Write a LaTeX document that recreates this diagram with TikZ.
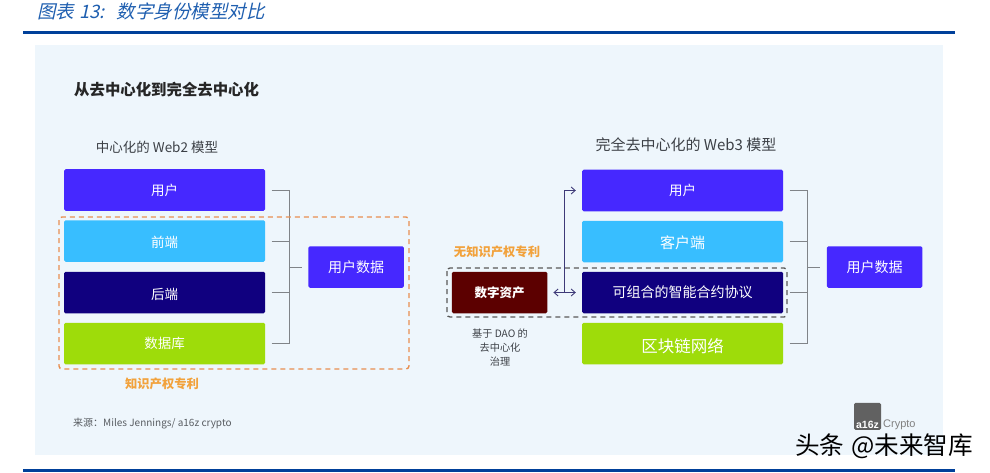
\documentclass[tikz,border=0pt]{standalone}
\usepackage{fontspec}
\setmainfont{Noto Sans CJK SC}
\newfontfamily\slantcjk[FakeSlant=0.22]{Noto Sans CJK SC}
\newfontfamily\logofont{Liberation Sans}
\definecolor{rulebl}{HTML}{00409A}
\definecolor{titlebl}{HTML}{1F5FB0}
\definecolor{bgpanel}{HTML}{EEF6FC}
\definecolor{cpurple}{HTML}{4628FF}
\definecolor{ccyan}{HTML}{38BEFF}
\definecolor{cnavy}{HTML}{10007F}
\definecolor{cgreen}{HTML}{9EDC0A}
\definecolor{cbrown}{HTML}{5C0000}
\definecolor{corange}{HTML}{F2A23C}
\definecolor{cdash}{HTML}{E88F50}
\definecolor{cline}{HTML}{808488}
\definecolor{carrow}{HTML}{3E3A78}
\definecolor{ctext}{HTML}{3C4046}
\newcommand{\lowered}[2]{\raisebox{-#1}[\height][\depth]{#2}}
\tikzset{
  x=1pt,y=-1pt,
  wide/.style={rounded corners=1.5pt,minimum width=201pt,minimum height=41.5pt,inner sep=0pt,text=white,font=\fontsize{13.5}{15}\selectfont},
  narrow/.style={rounded corners=1.5pt,minimum width=95.5pt,minimum height=41.5pt,inner sep=0pt,text=white,font=\fontsize{14}{15}\selectfont},
  conn/.style={draw=cline,line width=0.9pt},
  twoway/.style={draw=carrow,line width=0.9pt,-{Straight Barb[length=4pt,width=7pt]}},
  label/.style={inner sep=0pt,text=ctext},
  orangelab/.style={inner sep=0pt,text=corange,font=\fontsize{12.3}{14}\selectfont\bfseries},
}
\usetikzlibrary{arrows.meta}
\begin{document}
\begin{tikzpicture}
\useasboundingbox (0,0) rectangle (990,473);
\fill[white] (0,0) rectangle (990,473);
\fill[bgpanel] (35,45) rectangle (943,455);
\fill[rulebl] (23,31) rectangle (955,34);
\fill[rulebl] (23,469) rectangle (955,472);
\node[inner sep=0pt,anchor=west,text=titlebl,font=\fontsize{18.5}{20}\selectfont\slantcjk] (ttl) at (37,11) {图表\hspace{5pt}13:\hspace{12pt}数字身份模型对比};
\node[label,anchor=west,text=black!85,font=\fontsize{15.4}{18}\selectfont\bfseries] (head) at (74,90) {从去中心化到完全去中心化};
\node[label,font=\fontsize{13.5}{15}\selectfont] (lhead) at (157,147) {中心化的 Web2 模型};
\node[label,font=\fontsize{15}{17}\selectfont] (rhead) at (686,145) {完全去中心化的 Web3 模型};
% left column
\node[wide,fill=cpurple] (lu) at (164.5,190) {用户};
\node[wide,fill=ccyan] (lf) at (164.5,241) {\lowered{1pt}{前端}};
\node[wide,fill=cnavy] (lb) at (164.5,292.5) {\lowered{2pt}{后端}};
\node[wide,fill=cgreen] (ld) at (164.5,343.5) {数据库};
\node[narrow,fill=cpurple] (ldata) at (356,267) {用户数据};
\coordinate (lspine) at (289,267);
\draw[conn] ([xshift=6.5pt]lu.east) -| (lspine);
\draw[conn] ([xshift=6.5pt]ld.east) -| (lspine);
\draw[conn] ([xshift=6.5pt]lf.east) -- (lf.east -| lspine);
\draw[conn] ([xshift=6.5pt]lb.east) -- (lb.east -| lspine);
\draw[conn] (lspine) -- ([xshift=-6pt]ldata.west);
\draw[draw=cdash,line width=1.4pt,dash pattern=on 5pt off 4pt,rounded corners=3pt] (59,217) rectangle (409,369);
\node[orangelab] (lip) at (162,384) {知识产权专利};
% right column
\node[wide,fill=cpurple] (ru) at (682.5,190.5) {用户};
\node[wide,fill=ccyan,font=\fontsize{15}{15}\selectfont] (rc) at (682.5,241.5) {\lowered{1pt}{客户端}};
\node[wide,fill=cnavy,font=\fontsize{14}{15}\selectfont] (rs) at (682.5,292.5) {可组合的智能合约协议};
\node[wide,fill=cgreen,font=\fontsize{16.5}{15}\selectfont] (rn) at (682.5,343.5) {\lowered{3pt}{区块链网络}};
\node[narrow,fill=cbrown,font=\fontsize{12.5}{15}\selectfont\bfseries] (asset) at (499.5,292.5) {数字资产};
\node[narrow,fill=cpurple] (rdata) at (874.5,267) {用户数据};
\coordinate (rspine) at (807,267);
\draw[conn] ([xshift=6.5pt]ru.east) -| (rspine);
\draw[conn] ([xshift=6.5pt]rn.east) -| (rspine);
\draw[conn] ([xshift=6.5pt]rc.east) -- (rc.east -| rspine);
\draw[conn] ([xshift=6.5pt]rs.east) -- (rs.east -| rspine);
\draw[conn] (rspine) -- ([xshift=-6.5pt]rdata.west);
\draw[draw=black!65,line width=1.3pt,dash pattern=on 5pt off 4pt,rounded corners=3pt] (447,268) rectangle (787,317);
\coordinate (fork) at (564,292.5);
\draw[twoway,{Straight Barb[length=4pt,width=7pt]}-{Straight Barb[length=4pt,width=7pt]}] ([xshift=6pt]asset.east) -- ([xshift=-6pt]rs.west);
\draw[twoway] (fork) |- ([xshift=-6pt]ru.west);
\node[orangelab] (rip) at (497,252) {无知识产权专利};
\node[label,align=center,font=\fontsize{10.2}{14}\selectfont] (dao) at (500,347.5) {基于 DAO 的\\去中心化\\治理};
\node[label,anchor=west,text=ctext!85,font=\fontsize{10}{12}\selectfont] (src) at (73,423.5) {来源：Miles Jennings/ a16z crypto};
% logo
\node[fill=black!62,rounded corners=1.5pt,minimum width=27pt,minimum height=27pt,inner sep=1.5pt,anchor=south,align=center] (logo) at (867.5,430) {};
\node[inner sep=0pt,text=white,font=\fontsize{10.5}{11}\selectfont\logofont\bfseries,anchor=south] (logoa) at ([yshift=1pt]logo.south) {a16z};
\node[inner sep=0pt,text=black!50,font=\fontsize{11}{12}\selectfont\logofont,anchor=south west] (logoc) at (883,429.5) {Crypto};
% watermark
\node[inner sep=0pt,anchor=west,text=black,font=\fontsize{24.6}{26}\selectfont] (wm) at (795,446) {头条\hspace{7pt}@未来智库};
\end{tikzpicture}
\end{document}
